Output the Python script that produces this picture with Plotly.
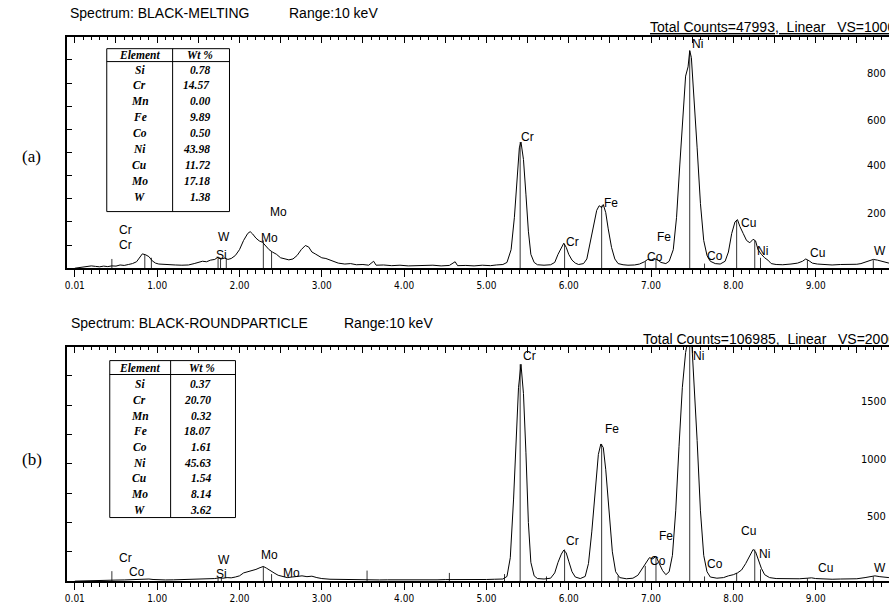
import plotly.graph_objects as go

W, H = 889, 604

# ---------------- data ----------------
tick_keV = [0, 1, 2, 3, 4, 5, 6, 7, 8, 9]
tick_text = ["0.01", "1.00", "2.00", "3.00", "4.00", "5.00", "6.00", "7.00", "8.00", "9.00"]

energy_a = [0.00, 0.05, 0.10, 0.15, 0.20, 0.25, 0.30, 0.35, 0.40, 0.45, 0.50, 0.55, 0.60, 0.65, 0.70,
            0.75, 0.78, 0.82, 0.86, 0.90, 0.94, 0.98, 1.02, 1.08, 1.15, 1.22, 1.30, 1.38, 1.45, 1.50,
            1.55, 1.60, 1.65, 1.70, 1.74, 1.78, 1.82, 1.86, 1.90, 1.95, 2.00, 2.05, 2.10, 2.13, 2.16,
            2.20, 2.24, 2.28, 2.32, 2.36, 2.40, 2.45, 2.50, 2.55, 2.60, 2.65, 2.70, 2.75, 2.80, 2.84,
            2.88, 2.92, 2.96, 3.00, 3.05, 3.10, 3.15, 3.20, 3.28, 3.35, 3.42, 3.50, 3.57, 3.63, 3.66,
            3.75, 3.85, 3.95, 4.05, 4.15, 4.25, 4.35, 4.45, 4.55, 4.62, 4.65, 4.75, 4.85, 4.95, 5.05,
            5.12, 5.20, 5.25, 5.30, 5.34, 5.37, 5.40, 5.42, 5.45, 5.48, 5.51, 5.54, 5.58, 5.62, 5.70,
            5.78, 5.83, 5.87, 5.91, 5.94, 5.97, 6.00, 6.04, 6.08, 6.12, 6.18, 6.22, 6.26, 6.30, 6.34,
            6.37, 6.40, 6.42, 6.45, 6.48, 6.52, 6.56, 6.60, 6.66, 6.72, 6.80, 6.86, 6.92, 6.96, 7.00,
            7.04, 7.08, 7.12, 7.18, 7.22, 7.27, 7.31, 7.35, 7.39, 7.42, 7.45, 7.47, 7.49, 7.52, 7.56,
            7.60, 7.64, 7.68, 7.72, 7.78, 7.84, 7.90, 7.94, 7.98, 8.02, 8.05, 8.08, 8.12, 8.16, 8.20,
            8.24, 8.27, 8.30, 8.34, 8.38, 8.42, 8.46, 8.52, 8.60, 8.70, 8.78, 8.84, 8.88, 8.92, 8.96,
            9.02, 9.10, 9.20, 9.30, 9.40, 9.50, 9.55, 9.60, 9.65, 9.70, 9.75, 9.80, 9.85, 9.89]
counts_a = [0, 2, 3, 5, 10, 8, 6, 9, 7, 10, 9, 14, 12, 16, 20,
            28, 45, 62, 58, 50, 32, 22, 18, 16, 15, 14, 13, 14, 20, 25,
            30, 28, 35, 38, 48, 40, 44, 38, 42, 55, 80, 120, 150, 158, 148,
            130, 118, 112, 95, 80, 70, 60, 45, 40, 36, 40, 55, 80, 98, 92,
            70, 62, 55, 45, 42, 35, 28, 22, 18, 20, 15, 16, 13, 30, 13,
            14, 11, 13, 10, 12, 11, 13, 10, 12, 28, 11, 12, 10, 13, 11,
            14, 16, 25, 80, 220, 390, 520, 545, 470, 320, 160, 60, 25, 15, 13,
            15, 25, 60, 90, 108, 90, 60, 35, 22, 16, 20, 40, 110, 190, 250,
            270, 262, 275, 240, 170, 90, 40, 20, 15, 13, 14, 18, 28, 38, 35,
            42, 36, 25, 20, 30, 80, 220, 450, 700, 830, 870, 940, 910, 760, 520,
            280, 120, 55, 30, 20, 18, 30, 70, 150, 200, 210, 180, 150, 120, 110,
            125, 118, 80, 60, 45, 35, 20, 16, 15, 18, 22, 30, 40, 32, 22,
            18, 15, 14, 16, 15, 17, 20, 25, 30, 38, 35, 30, 25, 22]

energy_b = [0.00, 0.10, 0.20, 0.30, 0.40, 0.50, 0.60, 0.70, 0.80, 0.85, 0.90, 0.95, 1.00, 1.10, 1.20,
            1.30, 1.40, 1.50, 1.60, 1.70, 1.75, 1.80, 1.85, 1.90, 1.95, 2.00, 2.05, 2.10, 2.15, 2.20,
            2.25, 2.29, 2.33, 2.37, 2.42, 2.47, 2.52, 2.58, 2.64, 2.70, 2.76, 2.82, 2.88, 2.94, 3.00,
            3.10, 3.20, 3.30, 3.40, 3.50, 3.60, 3.70, 3.80, 3.90, 4.00, 4.10, 4.20, 4.30, 4.40, 4.50,
            4.60, 4.70, 4.80, 4.90, 5.00, 5.10, 5.20, 5.25, 5.29, 5.33, 5.36, 5.39, 5.42, 5.45, 5.48,
            5.51, 5.54, 5.58, 5.62, 5.70, 5.78, 5.83, 5.87, 5.91, 5.94, 5.97, 6.00, 6.04, 6.08, 6.14,
            6.20, 6.24, 6.28, 6.32, 6.36, 6.39, 6.42, 6.45, 6.49, 6.53, 6.57, 6.62, 6.70, 6.78, 6.84,
            6.90, 6.94, 6.98, 7.02, 7.06, 7.10, 7.14, 7.18, 7.22, 7.26, 7.30, 7.34, 7.38, 7.42, 7.46,
            7.49, 7.52, 7.56, 7.60, 7.64, 7.68, 7.72, 7.80, 7.88, 7.94, 8.00, 8.05, 8.10, 8.15, 8.20,
            8.24, 8.27, 8.30, 8.34, 8.38, 8.44, 8.52, 8.60, 8.70, 8.80, 8.90, 8.95, 9.00, 9.10, 9.20,
            9.30, 9.40, 9.50, 9.60, 9.66, 9.72, 9.78, 9.84, 9.89]
counts_b = [0, 3, 6, 8, 7, 9, 10, 12, 15, 20, 18, 14, 12, 10, 11,
            12, 15, 18, 20, 22, 28, 25, 30, 28, 35, 45, 70, 80, 85, 100,
            115, 125, 110, 90, 70, 50, 38, 30, 35, 40, 45, 38, 42, 30, 22,
            16, 14, 13, 12, 11, 12, 10, 11, 10, 9, 11, 10, 12, 11, 13,
            12, 14, 13, 15, 14, 16, 18, 40, 200, 700, 1250, 1650, 1850, 1600, 1100,
            500, 160, 45, 22, 18, 25, 70, 160, 230, 265, 240, 170, 80, 35, 22,
            40, 150, 420, 780, 1080, 1170, 1140, 950, 600, 250, 80, 30, 20, 25, 50,
            110, 160, 200, 190, 210, 150, 90, 55, 80, 220, 600, 1150, 1650, 1950, 2100,
            2100, 1750, 1200, 600, 220, 80, 35, 25, 30, 45, 55, 70, 95, 150, 220,
            270, 250, 190, 110, 55, 30, 22, 20, 18, 20, 25, 28, 22, 18, 16,
            18, 17, 20, 30, 40, 45, 38, 35, 30]

marker_keV_a = [0.45, 0.85, 0.93, 1.74, 1.77, 1.84, 2.29, 2.39, 5.41, 5.95, 6.40, 6.93, 7.06, 7.47,
                7.65, 8.04, 8.26, 8.33, 8.90, 9.70]
marker_h_a = [40, 60, 45, 40, 45, 40, 120, 70, 545, 105, 270, 30, 40, 940,
              20, 205, 120, 45, 35, 35]
marker_keV_b = [0.45, 1.74, 1.78, 2.29, 2.39, 3.55, 4.55, 5.22, 5.41, 5.73, 5.95, 6.40, 6.60, 6.93,
                7.06, 7.47, 7.65, 8.04, 8.26, 8.33, 8.90, 9.70]
marker_h_b = [85, 30, 35, 125, 60, 90, 70, 60, 1850, 40, 270, 1170, 45, 130,
              200, 2100, 40, 70, 270, 100, 25, 40]

labels_a = [("Cr", 0.61, 165), ("Cr", 0.61, 99), ("W", 1.81, 137), ("Si", 1.78, 56),
            ("Mo", 2.48, 245), ("Mo", 2.36, 129), ("Cr", 5.50, 567), ("Cr", 6.05, 112),
            ("Fe", 6.51, 283), ("Co", 7.05, 50), ("Fe", 7.16, 133), ("Ni", 7.56, 970),
            ("Co", 7.78, 52), ("Cu", 8.18, 197), ("Ni", 8.36, 73), ("Cu", 9.02, 64), ("W", 9.78, 73)]
labels_b = [("Cr", 0.61, 195), ("Co", 0.75, 76), ("W", 1.81, 178), ("Si", 1.78, 59),
            ("Mo", 2.36, 220), ("Mo", 2.63, 68), ("Cr", 5.52, 1924), ("Cr", 6.05, 339),
            ("Fe", 6.52, 1297), ("Fe", 7.18, 381), ("Co", 7.08, 169), ("Ni", 7.58, 1924),
            ("Co", 7.78, 144), ("Cu", 8.18, 430), ("Ni", 8.38, 230), ("Cu", 9.12, 110), ("W", 9.78, 115)]

elements = ["Si", "Cr", "Mn", "Fe", "Co", "Ni", "Cu", "Mo", "W"]
wt_a = ["0.78", "14.57", "0.00", "9.89", "0.50", "43.98", "11.72", "17.18", "1.38"]
wt_b = ["0.37", "20.70", "0.32", "18.07", "1.61", "45.63", "1.54", "8.14", "3.62"]

right_ticks_a = [800, 600, 400, 200]
right_ticks_b = [1500, 1000, 500]

# ---------------- geometry helpers ----------------
def X(px):
    return px / W

def Y(py):
    return 1 - py / H

X0_PX, KEV_PX = 73.0, 82.5
xr = [(65 - X0_PX) / KEV_PX, (W - X0_PX) / KEV_PX]
dom_x = [X(65), 1.0]
dom_a = [Y(270), Y(37)]
dom_b = [Y(585), Y(349)]

SANS = "Liberation Sans, Arial, sans-serif"
NARROW = "Liberation Sans Narrow, DejaVu Sans Condensed, Arial Narrow, sans-serif"
SERIF = "Liberation Serif, Times New Roman, serif"

fig = go.Figure()

def marker_xy(ks, hs):
    xs, ys = [], []
    for k, h in zip(ks, hs):
        xs += [k, k, None]
        ys += [0, h, None]
    return xs, ys

fig.add_trace(go.Scatter(x=energy_a, y=counts_a, mode="lines", line=dict(color="black", width=1),
                         xaxis="x", yaxis="y", hoverinfo="skip"))
mx, my = marker_xy(marker_keV_a, marker_h_a)
fig.add_trace(go.Scatter(x=mx, y=my, mode="lines", line=dict(color="black", width=0.8),
                         xaxis="x", yaxis="y", hoverinfo="skip"))
fig.add_trace(go.Scatter(x=energy_b, y=counts_b, mode="lines", line=dict(color="black", width=1),
                         xaxis="x3", yaxis="y2", hoverinfo="skip"))
mx, my = marker_xy(marker_keV_b, marker_h_b)
fig.add_trace(go.Scatter(x=mx, y=my, mode="lines", line=dict(color="black", width=0.8),
                         xaxis="x3", yaxis="y2", hoverinfo="skip"))

def bottom_axis(anchor):
    return dict(domain=dom_x, range=xr, anchor=anchor, showline=True, linewidth=2, linecolor="black",
                ticks="outside", tickmode="array", tickvals=tick_keV, ticktext=tick_text,
                ticklen=7, tickwidth=1, tickcolor="black",
                minor=dict(tickmode="linear", tick0=0, dtick=0.1, ticks="outside", ticklen=4,
                           tickwidth=1, tickcolor="black"),
                tickfont=dict(family=NARROW, size=10, color="black"),
                showgrid=False, zeroline=False, fixedrange=True)

def top_axis(overlay, anchor):
    return dict(overlaying=overlay, side="top", range=xr, anchor=anchor, showline=True, linewidth=2,
                linecolor="black", ticks="inside", tickmode="linear", tick0=0, dtick=0.5, ticklen=6,
                tickwidth=1, tickcolor="black",
                minor=dict(tickmode="linear", tick0=0, dtick=0.1, ticks="inside", ticklen=3,
                           tickwidth=1, tickcolor="black"),
                showticklabels=False, showgrid=False, zeroline=False, fixedrange=True)

def left_axis(dom, rng, dt, anchor):
    return dict(domain=dom, range=rng, anchor=anchor, showline=True, linewidth=1.5, linecolor="black",
                ticks="inside", tickmode="linear", tick0=0, dtick=dt, ticklen=5, tickwidth=1,
                tickcolor="black", showticklabels=False, showgrid=False, zeroline=False,
                fixedrange=True)

ann = []
shapes = []

def text(px, py, s, size=12, family=SANS, xanchor="left"):
    ann.append(dict(x=X(px), y=Y(py), xref="paper", yref="paper", text=s, showarrow=False,
                    xanchor=xanchor, yanchor="middle", font=dict(family=family, size=size, color="black")))

# headers
text(66, 13, "Spectrum: BLACK-MELTING", 14)
text(286, 13, "Range:10 keV", 14)
text(647, 27, "<u>Total Counts=47993,  Linear   VS=1000</u>", 14)
text(67, 325, "Spectrum: BLACK-ROUNDPARTICLE", 14)
text(341, 325, "Range:10 keV", 14)
text(640, 341, "<u>Total Counts=106985,  Linear   VS=2000</u>", 14)
text(30, 158, "(a)", 17, SERIF, "center")
text(30, 463, "(b)", 17, SERIF, "center")

# right-side count labels
for v, py in zip(right_ticks_a, [74, 121, 167, 215]):
    text(888, py, str(v), 11, NARROW, "right")
for v, py in zip(right_ticks_b, [404, 463, 520]):
    text(888, py, str(v), 11, NARROW, "right")

# peak labels
for s, e, c in labels_a:
    ann.append(dict(x=e, y=c, xref="x", yref="y", text=s, showarrow=False, xanchor="center",
                    yanchor="middle", font=dict(family=SANS, size=12, color="black")))
for s, e, c in labels_b:
    ann.append(dict(x=e, y=c, xref="x3", yref="y2", text=s, showarrow=False, xanchor="center",
                    yanchor="middle", font=dict(family=SANS, size=12, color="black")))

# tables
def table(left, right, top, bottom, div, hline, hy, row0, step, name_cx, val_rx, wt_cx, values):
    line = dict(color="black", width=1)
    shapes.append(dict(type="rect", xref="paper", yref="paper", x0=X(left), x1=X(right),
                       y0=Y(bottom), y1=Y(top), line=line, fillcolor="white", layer="above"))
    shapes.append(dict(type="line", xref="paper", yref="paper", x0=X(div), x1=X(div),
                       y0=Y(bottom), y1=Y(top), line=line))
    shapes.append(dict(type="line", xref="paper", yref="paper", x0=X(left), x1=X(right),
                       y0=Y(hline), y1=Y(hline), line=line))
    text(name_cx, hy, "<b><i>Element</i></b>", 11.5, SERIF, "center")
    text(wt_cx, hy, "<b><i>Wt %</i></b>", 11.5, SERIF, "center")
    for i, (el, v) in enumerate(zip(elements, values)):
        yy = row0 + i * step
        text(name_cx, yy, "<b><i>%s</i></b>" % el, 11.5, SERIF, "center")
        text(val_rx, yy, "<b><i>%s</i></b>" % v, 11.5, SERIF, "right")

table(105, 228, 49, 213, 171, 62, 55, 70, 16, 138, 210, 198, wt_a)
table(108, 234, 363, 521, 169, 377, 370, 387, 15.75, 138, 211, 200, wt_b)

fig.update_layout(
    width=W, height=H, margin=dict(l=0, r=0, t=0, b=0),
    paper_bgcolor="white", plot_bgcolor="white", showlegend=False,
    xaxis=bottom_axis("y"), xaxis2=top_axis("x", "y"),
    xaxis3=bottom_axis("y2"), xaxis4=top_axis("x3", "y2"),
    yaxis=left_axis(dom_a, [0, 1000], 100, "x"),
    yaxis2=left_axis(dom_b, [0, 2000], 250, "x3"),
    annotations=ann, shapes=shapes,
)
fig.add_trace(go.Scatter(x=[None], y=[None], xaxis="x2", yaxis="y", showlegend=False))
fig.add_trace(go.Scatter(x=[None], y=[None], xaxis="x4", yaxis="y2", showlegend=False))

fig.write_html("out.html", config={"displayModeBar": False},
               post_script="document.body.style.margin='0';document.body.style.overflow='hidden';")
